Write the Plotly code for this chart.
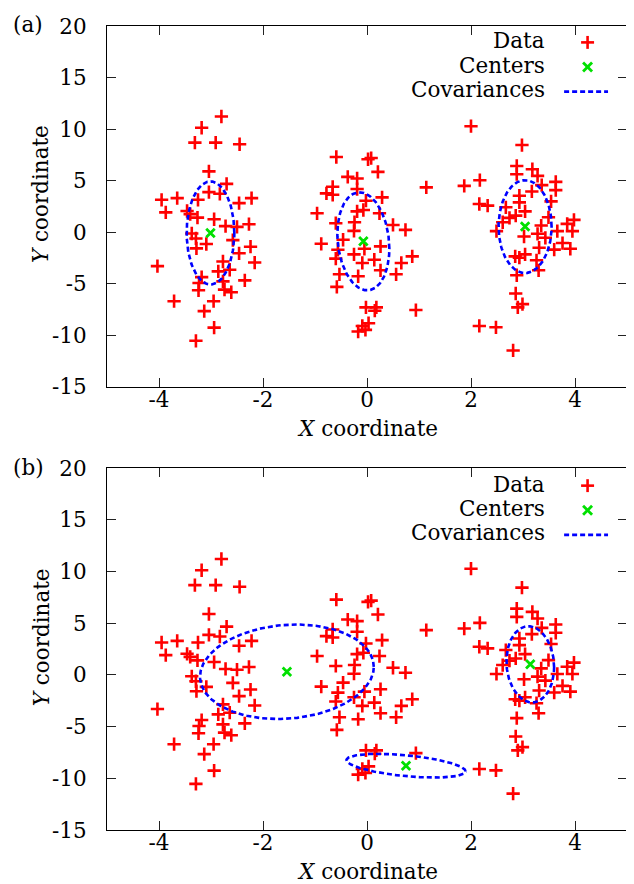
import numpy as np
import plotly.graph_objects as go

# ---------------- data ----------------
data_x = [
    -2.80, -3.18, -3.31, -2.91, -2.45, -3.04, -2.70, -3.04, -2.83, -3.95, -3.65, -3.25,
    -2.46, -2.22, -3.87, -3.46, -3.40, -3.26, -2.94, -2.72, -2.50, -2.27, -3.37, -3.29,
    -3.09, -3.28, -2.58, -2.24, -2.46, -4.03, -2.16, -2.77, -2.86, -2.64, -3.18, -3.23,
    -2.77, -2.35, -3.24, -2.74, -2.61, -3.71, -2.95, -3.13, -2.94, -3.29,
    -0.59, 0.02, 0.08, 0.21, -0.37, -0.19, -0.66, -0.78, -0.66, 1.14, -0.19, -0.02,
    0.29, -0.96, -0.19, -0.07, 0.24, -0.60, -0.24, 0.50, 0.74, -0.25, -0.46, -0.88,
    -0.56, -0.05, 0.26, -0.25, -0.60, 0.14, -0.09, 0.87, 0.66, -0.53, -0.17, 0.26,
    0.56, -0.58, -0.02, 0.18, 0.15, 0.94, 0.03, -0.09, -0.17, -0.03,
    2.00, 2.98, 2.88, 3.18, 2.88, 3.28, 2.17, 1.87, 3.63, 3.36, 3.17, 3.63,
    2.93, 3.54, 2.16, 2.32, 2.93, 2.67, 3.04, 2.86, 2.74, 3.49, 3.98, 3.85,
    2.61, 2.49, 3.35, 3.66, 3.28, 3.95, 3.02, 3.43, 3.76, 3.31, 3.60, 3.91,
    2.85, 3.04, 2.93, 3.26, 3.30, 2.88, 2.86, 2.99, 2.90, 2.16, 2.48, 2.81,
]
data_y = [
    11.22, 10.13, 8.69, 8.69, 8.53, 5.90, 4.68, 3.88, 3.72, 3.14, 3.30, 3.14,
    2.82, 3.30, 1.92, 2.05, 1.75, 1.41, 1.25, 0.58, 0.51, 0.77, -0.13, -0.61,
    -1.15, -1.57, -0.77, -1.41, -2.05, -3.30, -2.95, -2.85, -3.81, -3.65, -4.36, -4.94,
    -4.78, -4.68, -5.64, -5.58, -5.83, -6.70, -6.70, -7.66, -9.26, -10.54,
    7.29, 7.07, 7.19, 5.85, 5.36, 5.21, 4.40, 3.76, 3.63, 4.34, 4.18, 3.05,
    3.37, 1.83, 2.02, 2.15, 1.83, 0.87, 0.96, 0.70, 0.22, 0.12, -0.74, -1.13,
    -1.71, -1.61, -1.38, -2.16, -2.57, -2.68, -2.99, -2.35, -2.99, -4.09, -4.28, -3.70,
    -4.09, -5.31, -7.30, -7.30, -7.62, -7.56, -8.84, -9.10, -9.64, -9.48,
    10.28, 8.45, 6.42, 6.10, 5.62, 5.46, 5.04, 4.49, 4.88, 4.56, 3.95, 4.08,
    3.53, 2.99, 2.73, 2.57, 2.89, 2.41, 2.02, 1.60, 1.38, 1.44, 1.19, 0.80,
    0.96, 0.10, 0.64, 0.10, -0.16, 0.10, -0.42, -0.55, -1.06, -1.51, -1.70, -1.61,
    -2.35, -2.16, -2.48, -2.73, -3.70, -4.18, -5.95, -6.98, -7.30, -9.10, -9.23, -11.48,
]

# panel (a): fitted centers and covariances [sxx, sxy, syy]
centers_a_x = [-3.01, -0.07, 3.04]
centers_a_y = [-0.08, -0.89, 0.54]
cov_a = [[0.21, 0.00, 25.0], [0.25, -0.35, 22.6], [0.26, 0.00, 20.3]]

# panel (b)
centers_b_x = [-1.54, 0.75, 3.14]
centers_b_y = [0.31, -8.78, 1.03]
cov_b = [[2.79, 0.80, 20.9], [1.31, -0.62, 1.32], [0.21, -0.13, 13.6]]

x_tick_vals = [-4, -2, 0, 2, 4]
x_tick_text = ["-4", "-2", "0", "2", "4"]
y_tick_vals = [-15, -10, -5, 0, 5, 10, 15, 20]
y_tick_text = ["-15", "-10", "-5", "0", "5", "10", "15", "20"]

legend_labels = ["Data", "Centers", "Covariances"]
panel_labels = ["(a)", "(b)"]

# ---------------- layout constants ----------------
# the page body has an 8px margin, so the figure is drawn at (8, 8)
PAGE_OFF = 8
W, H = 634 - PAGE_OFF, 884 - PAGE_OFF
# plot frame in window pixels: x 107..628, y 21..830
ML = 107 - PAGE_OFF
MT = 21 - PAGE_OFF
MR = W - (628 - PAGE_OFF)
MB = H - (830 - PAGE_OFF)
PW, PH = W - ML - MR, H - MT - MB
FONT = "DejaVu Serif"
FS = 21.5
RED, GREEN, BLUE = "#ff0000", "#00e000", "#0000ff"


def pxx(X):
    return (X - PAGE_OFF - ML) / PW


def pxy(Y):
    return 1 - (Y - PAGE_OFF - MT) / PH


def ellipse(cx, cy, c):
    sxx, sxy, syy = c
    L = np.linalg.cholesky(np.array([[sxx, sxy], [sxy, syy]]))
    t = np.linspace(0, 2 * np.pi, 200)
    pts = L @ np.vstack([np.cos(t), np.sin(t)])
    return cx + pts[0], cy + pts[1]


fig = go.Figure()

panels = [
    ("x", "y", centers_a_x, centers_a_y, cov_a),
    ("x2", "y2", centers_b_x, centers_b_y, cov_b),
]
for xa, ya, cxs, cys, covs in panels:
    fig.add_trace(go.Scatter(
        x=data_x, y=data_y, mode="markers", xaxis=xa, yaxis=ya,
        marker=dict(symbol="cross-thin", size=9.5, line=dict(color=RED, width=2.6)),
        name="Data", showlegend=False, hoverinfo="x+y"))
    fig.add_trace(go.Scatter(
        x=cxs, y=cys, mode="markers", xaxis=xa, yaxis=ya,
        marker=dict(symbol="x-thin", size=8.5, line=dict(color=GREEN, width=2.8)),
        name="Centers", showlegend=False))
    for cx, cy, c in zip(cxs, cys, covs):
        ex, ey = ellipse(cx, cy, c)
        fig.add_trace(go.Scatter(
            x=ex, y=ey, mode="lines", xaxis=xa, yaxis=ya,
            line=dict(color=BLUE, width=2.6, dash="5px,3px"),
            name="Covariances", showlegend=False, hoverinfo="skip"))

common_axis = dict(
    showline=True, linecolor="black", linewidth=1.2, mirror="allticks",
    ticks="inside", ticklen=9, tickcolor="#222", tickwidth=1,
    showgrid=False, zeroline=False,
    tickfont=dict(family=FONT, size=FS, color="black"),
)

dom_a = [pxy(384), 1]
dom_b = [0, pxy(466)]

fig.update_layout(
    width=W, height=H,
    margin=dict(l=ML, r=MR, t=MT, b=MB),
    paper_bgcolor="white", plot_bgcolor="white",
    font=dict(family=FONT, size=FS, color="black"),
    showlegend=False,
    xaxis=dict(domain=[0, 1], anchor="y", range=[-5, 5], tickvals=x_tick_vals,
               ticktext=x_tick_text, ticklabelstandoff=-7, **common_axis),
    yaxis=dict(domain=dom_a, anchor="x", range=[-15, 20], tickvals=y_tick_vals,
               ticktext=y_tick_text, ticklabelstandoff=15, **common_axis),
    xaxis2=dict(domain=[0, 1], anchor="y2", range=[-5, 5], tickvals=x_tick_vals,
                ticktext=x_tick_text, ticklabelstandoff=-7, **common_axis),
    yaxis2=dict(domain=dom_b, anchor="x2", range=[-15, 20], tickvals=y_tick_vals,
                ticktext=y_tick_text, ticklabelstandoff=15, **common_axis),
)

annotations = []
shapes = []
for k, off in enumerate([0, 446]):
    annotations.append(dict(text=panel_labels[k], x=pxx(28), y=pxy(19 + off),
                            xref="paper", yref="paper", showarrow=False,
                            xanchor="center", yanchor="middle",
                            font=dict(family=FONT, size=FS)))
    annotations.append(dict(text="<i>Y</i> coordinate", x=pxx(41), y=pxy(190 + off),
                            xref="paper", yref="paper", showarrow=False, textangle=-90,
                            xanchor="center", yanchor="middle",
                            font=dict(family=FONT, size=FS)))
    annotations.append(dict(text="<i>X</i> coordinate", x=pxx(367.5), y=pxy(426 + off),
                            xref="paper", yref="paper", showarrow=False,
                            xanchor="center", yanchor="middle",
                            font=dict(family=FONT, size=FS)))
    for i, lab in enumerate(legend_labels):
        annotations.append(dict(text=lab, x=pxx(548), y=pxy(36 + 24.5 * i + off),
                                xref="paper", yref="paper", showarrow=False,
                                xanchor="right", yanchor="middle",
                                font=dict(family=FONT, size=FS)))
    # legend keys
    cxp, cyp = 588.5, 37.5 + off
    r = 6.5
    shapes.append(dict(type="line", xref="paper", yref="paper",
                       x0=pxx(cxp - r), x1=pxx(cxp + r), y0=pxy(cyp), y1=pxy(cyp),
                       line=dict(color=RED, width=2.6)))
    shapes.append(dict(type="line", xref="paper", yref="paper",
                       x0=pxx(cxp), x1=pxx(cxp), y0=pxy(cyp - r), y1=pxy(cyp + r),
                       line=dict(color=RED, width=2.6)))
    cyp = 62.3 + off
    r = 4.5
    shapes.append(dict(type="line", xref="paper", yref="paper",
                       x0=pxx(cxp - r), x1=pxx(cxp + r), y0=pxy(cyp - r), y1=pxy(cyp + r),
                       line=dict(color=GREEN, width=2.8)))
    shapes.append(dict(type="line", xref="paper", yref="paper",
                       x0=pxx(cxp - r), x1=pxx(cxp + r), y0=pxy(cyp + r), y1=pxy(cyp - r),
                       line=dict(color=GREEN, width=2.8)))
    cyp = 87 + off
    shapes.append(dict(type="line", xref="paper", yref="paper",
                       x0=pxx(565), x1=pxx(609), y0=pxy(cyp), y1=pxy(cyp),
                       line=dict(color=BLUE, width=2.6, dash="5px,3px")))

fig.update_layout(annotations=annotations, shapes=shapes)
fig.write_html("out.html")
